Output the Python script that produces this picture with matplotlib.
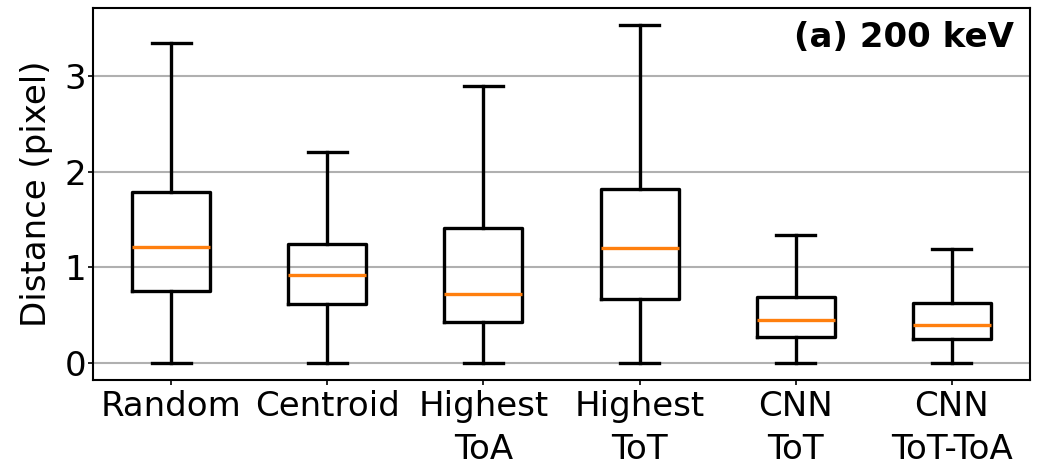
import matplotlib
matplotlib.use('Agg')
import matplotlib.pyplot as plt

methods = ['Random', 'Centroid', 'Highest\nToA', 'Highest\nToT', 'CNN\nToT', 'CNN\nToT-ToA']
whislo = [0, 0, 0, 0, 0, 0]
q1 = [0.756, 0.617, 0.432, 0.672, 0.275, 0.254]
med = [1.216, 0.923, 0.724, 1.205, 0.449, 0.404]
q3 = [1.787, 1.244, 1.414, 1.822, 0.696, 0.634]
whishi = [3.345, 2.205, 2.90, 3.536, 1.338, 1.195]

stats = []
for i, m in enumerate(methods):
    stats.append({'label': m, 'whislo': whislo[i], 'q1': q1[i], 'med': med[i],
                  'q3': q3[i], 'whishi': whishi[i], 'fliers': []})

fig = plt.figure(figsize=(10.38, 4.62), dpi=100)
ax = fig.add_axes([93/1038, 1 - 380/462, (1030-93)/1038, (380-8)/462])

lw = 2.4
ax.bxp(stats, widths=0.5, showfliers=False,
       boxprops=dict(linewidth=lw, color='black'),
       whiskerprops=dict(linewidth=lw, color='black'),
       capprops=dict(linewidth=lw, color='black'),
       medianprops=dict(linewidth=lw, color='#ff7f0e'))

ax.set_xlim(0.5, 6.5)
ax.set_ylim(-0.175, 3.71)
ax.set_yticks([0, 1, 2, 3])
ax.yaxis.grid(True, color='#b0b0b0', linewidth=1.5)
ax.set_axisbelow(True)
ax.tick_params(labelsize=24.5, width=1.2, length=3.5)
ax.tick_params(axis='y', pad=1.5)
for lab in ax.get_xticklabels():
    lab.set_linespacing(1.4)
for s in ax.spines.values():
    s.set_linewidth(1.5)
ax.set_ylabel('Distance (pixel)', fontsize=24.5, labelpad=8)
ax.text(0.983, 0.965, '(a) 200 keV', transform=ax.transAxes, ha='right', va='top',
        fontsize=24.5, fontweight='bold')

fig.savefig('out.png', dpi=100)
